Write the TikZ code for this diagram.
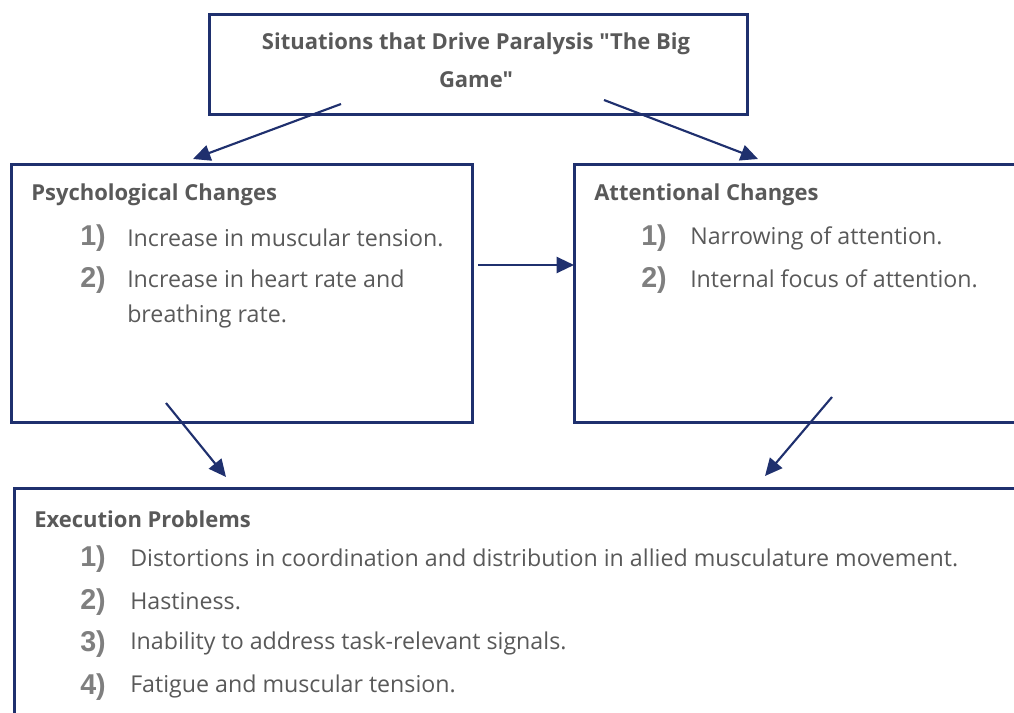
\documentclass[tikz,border=0pt]{standalone}
\usepackage{fontspec}
\setmainfont{Open Sans}[Ligatures=TeXOff]
\newfontfamily\numfont{Liberation Sans}
\usetikzlibrary{arrows.meta,calc}
\definecolor{navy}{RGB}{31,48,110}
\definecolor{txtgray}{RGB}{89,89,89}
\definecolor{numgray}{RGB}{127,127,127}
\tikzset{
  boxnode/.style={draw=navy, line width=1.9pt, rectangle, inner sep=0pt, anchor=north west},
  conn/.style={draw=navy, line width=1.6pt, -{Triangle[length=13pt,width=12pt]}},
  headtxt/.style={anchor=west, inner sep=0pt, text=txtgray, font=\fontsize{16.5}{20}\selectfont\bfseries},
  bodytxt/.style={anchor=west, inner sep=0pt, text=txtgray, font=\fontsize{17.4}{22}\selectfont},
  numtxt/.style={anchor=west, inner sep=0pt, text=numgray, font=\fontsize{21.5}{24}\selectfont\numfont\bfseries},
}
\begin{document}
\begin{tikzpicture}[x=0.75pt,y=-0.75pt]
\useasboundingbox (0,0) rectangle (1014,713);
% boxes
\node[boxnode, minimum width=538*0.75pt, minimum height=100*0.75pt] (top) at (208,13) {};
\node[boxnode, minimum width=461*0.75pt, minimum height=258*0.75pt] (left) at (10,163) {};
\node[boxnode, minimum width=470*0.75pt, minimum height=258*0.75pt] (right) at (573,163) {};
\node[boxnode, minimum width=1020*0.75pt, minimum height=240*0.75pt] (bottom) at (13,487) {};
% top text
\node[anchor=center, inner sep=0pt, text=txtgray, font=\fontsize{16.5}{20}\selectfont\bfseries] (toptxt1) at (476,44) {Situations that Drive Paralysis "The Big};
\node[anchor=center, inner sep=0pt, text=txtgray, font=\fontsize{16.5}{20}\selectfont\bfseries] (toptxt2) at (476,80) {Game"};
% left
\node[headtxt] (lh) at (31,195) {Psychological Changes};
\node[numtxt] (ln1) at (80,238) {1)};
\node[bodytxt] (lt1) at (127,238) {Increase in muscular tension.};
\node[numtxt] (ln2) at (80,280) {2)};
\node[bodytxt] (lt2) at (127,279) {Increase in heart rate and};
\node[bodytxt] (lt3) at (127,316) {breathing rate.};
% right
\node[headtxt] (rh) at (594,195) {Attentional Changes};
\node[numtxt] (rn1) at (641,238) {1)};
\node[bodytxt] (rt1) at (690,238) {Narrowing of attention.};
\node[numtxt] (rn2) at (641,280) {2)};
\node[bodytxt] (rt2) at (690,279) {Internal focus of attention.};
% bottom
\node[headtxt] (bh) at (34,519) {Execution Problems};
\node[numtxt] (bn1) at (80,559) {1)};
\node[bodytxt] (bt1) at (130,558) {Distortions in coordination and distribution in allied musculature movement.};
\node[numtxt] (bn2) at (80,602) {2)};
\node[bodytxt] (bt2) at (130,601) {Hastiness.};
\node[numtxt] (bn3) at (80,644) {3)};
\node[bodytxt] (bt3) at (130,643) {Inability to address task-relevant signals.};
\node[numtxt] (bn4) at (80,687) {4)};
\node[bodytxt] (bt4) at (130,686) {Fatigue and muscular tension.};
% connector endpoints
\coordinate (a1s) at (341,104);
\coordinate (a1e) at (193,159);
\coordinate (a2s) at (604,100);
\coordinate (a2e) at (758,159);
\coordinate (a3s) at (478,265);
\coordinate (a3e) at (574,265);
\coordinate (a4s) at (166,403);
\coordinate (a4e) at (226,477);
\coordinate (a5s) at (832,397);
\coordinate (a5e) at (765,476);
\draw[conn] (a1s) -- (a1e);
\draw[conn] (a2s) -- (a2e);
\draw[conn] (a3s) -- (a3e);
\draw[conn] (a4s) -- (a4e);
\draw[conn] (a5s) -- (a5e);
\end{tikzpicture}
\end{document}
